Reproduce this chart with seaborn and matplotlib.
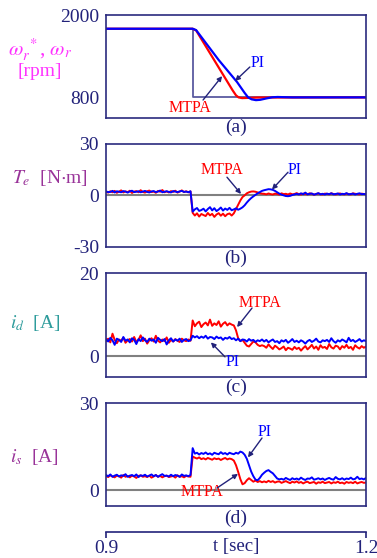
import numpy as np
import pandas as pd
import matplotlib
matplotlib.use('Agg')
import matplotlib.pyplot as plt
import seaborn as sns

sns.set_theme(style='white')
plt.rcParams['font.family'] = ['Liberation Serif', 'DejaVu Serif']
plt.rcParams['mathtext.fontset'] = 'stix'
plt.rcParams['axes.unicode_minus'] = False

# ---------------- data ----------------
T0, DT, N = 0.9, 0.0025, 121   # sampled time axis 0.9 .. 1.2 s

# (a) speed [rpm]
ref_t = [0.9, 1.0, 1.0, 1.2]
ref_w = [1800, 1800, 800, 800]
mtpa_spd_t = [0.9, 1.0, 1.004, 1.046, 1.050, 1.053, 1.057, 1.064, 1.075, 1.2]
mtpa_spd_w = [1800, 1800, 1775, 905, 830, 800, 790, 793, 798, 800]
pi_spd_t = [0.9, 1.0, 1.004, 1.03, 1.0512, 1.060, 1.064, 1.068, 1.073, 1.078,
            1.085, 1.092, 1.098, 1.106, 1.115, 1.2]
pi_spd_w = [1800, 1800, 1780, 1345, 1024, 865, 800, 772, 760, 765,
            785, 802, 806, 803, 800, 800]

# (b) torque [N m]
te_mtpa_pre = [2.1, 1.6, 2.4, 1.8, 2.6, 1.5, 2.2, 2.9, 1.7, 2.3, 1.9, 2.7, 1.4, 2.2, 2.5, 1.8, 3.0, 2.0, 1.6, 2.4,
               2.8, 1.9, 2.2, 1.5, 2.6, 2.1, 3.1, 1.8, 2.3, 1.7, 2.5, 2.0, 2.7, 1.6, 2.2, 2.9, 1.9, 2.4, 1.8, 2.3]
te_mtpa_step = [-10.2, -11.8, -10.5, -12.4, -10.9, -11.5, -12.1, -10.3, -11.7, -10.8,
                -12.6, -11.2, -10.4, -11.9, -10.7, -12.2, -11.0, -10.6, -11.8]
te_mtpa_trans = [-10.5, -8.0, -5.5, -3.0, -1.0, 0.0, 1.2, 1.8, 2.2, 2.3, 2.1, 1.7, 1.3, 1.0]
te_mtpa_post = [0.9, 0.6, 1.1, 0.7, 0.5, 1.0, 0.8, 0.4, 1.2, 0.7, 0.9, 0.5, 1.1, 0.6, 0.8, 1.3, 0.7, 0.5, 1.0, 0.8,
                0.6, 1.2, 0.9, 0.4, 0.8, 1.1, 0.7, 0.5, 1.0, 0.9, 0.6, 1.2, 0.8, 0.5, 0.9, 1.1, 0.7, 0.6, 1.0, 0.8,
                0.5, 1.2, 0.9, 0.7, 0.6, 1.0, 0.8, 0.7]

te_pi_pre = [2.3, 1.9, 2.0, 2.6, 1.7, 2.4, 2.1, 1.8, 2.5, 2.2, 1.6, 2.3, 2.7, 1.9, 2.1, 2.4, 1.8, 2.2, 2.6, 2.0,
             1.7, 2.3, 2.5, 1.9, 2.2, 2.8, 1.8, 2.1, 2.4, 2.0, 1.7, 2.5, 2.2, 1.9, 2.3, 2.6, 2.0, 2.2, 1.8, 2.4]
te_pi_step = [-9.5, -8.2, -7.4, -9.1, -8.6, -7.8, -9.4, -8.0, -6.9, -8.8,
              -7.5, -9.2, -8.3, -7.1, -8.9, -7.7, -8.5, -7.3, -8.7]
te_pi_trans = [-8.2, -7.6, -8.4, -7.8, -7.0, -5.8, -4.2, -2.8, -1.6, -0.6, 0.3, 1.2, 1.9, 2.6]
te_pi_post = [3.0, 3.3, 3.6, 3.5, 3.2, 2.6, 1.8, 1.0, 0.4, 0.0, -0.4, -0.5, -0.3, 0.2, 0.5,
              0.9, 0.5, 1.2, 0.7, 1.6, 0.6, 0.9, 1.1, 0.4, 0.8, 1.3, 0.6, 0.9, 0.5, 1.0, 0.7, 1.2,
              0.6, 0.8, 1.1, 0.5, 0.9, 0.7, 1.3, 0.6, 0.8, 1.0, 0.5, 0.9, 1.2, 0.7, 0.8, 0.6]

# (c) d-axis current [A]
id_mtpa_pre = [3.6, 4.2, 3.3, 5.4, 3.9, 3.1, 4.0, 3.7, 4.4, 3.2, 3.8, 4.1, 3.5, 4.6, 3.4, 3.9, 5.0, 3.6, 4.2, 3.0,
               3.8, 4.3, 3.5, 4.9, 3.7, 3.3, 4.0, 3.6, 4.5, 3.2, 3.9, 3.5, 4.1, 3.7, 3.4, 4.2, 3.8, 3.6, 4.0, 3.7]
id_mtpa_step = [8.6, 7.2, 7.9, 8.3, 7.0, 7.7, 8.1, 7.4, 8.8, 7.3, 7.9, 7.5, 8.4, 7.1, 7.8, 8.2, 7.4, 7.9, 7.6]
id_mtpa_trans = [7.4, 6.2, 4.3, 3.6, 3.9, 3.2, 2.5, 2.3, 2.9, 3.5, 3.3, 2.7, 2.4, 2.6]
id_mtpa_post = [2.4, 2.0, 2.8, 2.2, 1.7, 2.5, 2.1, 1.6, 1.9, 2.3, 1.4, 2.0, 1.8, 1.5, 2.2, 1.7, 2.0, 1.3, 1.9, 2.4,
                1.6, 2.1, 2.7, 1.8, 2.3, 1.5, 2.6, 2.0, 2.2, 1.7, 2.9, 2.1, 1.8, 2.5, 2.3, 1.6, 2.4, 2.0, 2.7, 1.9,
                2.2, 1.5, 2.6, 2.1, 1.8, 2.4, 2.0, 2.3]

id_pi_pre = [4.1, 3.5, 4.4, 3.8, 2.7, 4.2, 3.9, 3.4, 4.6, 3.7, 4.0, 3.3, 4.3, 3.9, 2.9, 4.1, 3.6, 4.5, 3.8, 3.4,
             4.2, 3.7, 4.0, 3.2, 4.4, 3.9, 3.6, 4.1, 2.8, 3.8, 4.3, 3.5, 4.0, 3.7, 4.2, 3.4, 3.9, 4.1, 3.6, 3.8]
id_pi_step = [4.9, 4.5, 4.8, 4.3, 4.7, 4.4, 4.9, 4.2, 4.6, 4.5, 4.1, 4.7, 4.3, 4.5, 3.9, 4.4, 4.2, 4.6, 4.1]
id_pi_trans = [4.3, 3.8, 4.2, 3.6, 4.0, 3.9, 3.5, 4.1, 3.7, 3.9, 3.4, 3.8, 3.6, 4.0]
id_pi_post = [3.5, 3.9, 3.3, 3.7, 4.0, 3.4, 3.6, 3.1, 3.8, 3.5, 3.9, 3.2, 3.6, 4.1, 3.4, 3.7, 3.3, 3.8, 3.5, 3.0,
              3.6, 3.9, 3.4, 3.7, 4.2, 3.5, 3.3, 3.8, 3.6, 3.9, 3.4, 4.3, 3.6, 3.2, 3.8, 3.5, 4.0, 3.7, 3.3, 4.4,
              3.6, 3.9, 3.4, 3.7, 4.1, 3.5, 3.8, 3.6]

# (d) stator current magnitude [A]
is_mtpa_pre = [4.9, 4.5, 5.1, 4.7, 4.4, 5.0, 4.8, 4.3, 5.2, 4.6, 4.9, 4.4, 5.0, 4.7, 4.2, 4.9, 5.1, 4.6, 4.8, 4.5,
               5.0, 4.3, 4.7, 5.2, 4.6, 4.9, 4.4, 4.8, 5.0, 4.5, 4.7, 4.9, 4.3, 5.1, 4.6, 4.8, 4.4, 4.9, 4.7, 4.6]
is_mtpa_step = [11.6, 11.2, 10.9, 11.3, 10.7, 11.0, 10.6, 11.1, 10.8, 10.5,
                11.0, 10.7, 10.9, 10.4, 10.8, 11.1, 10.6, 10.9, 10.7]
is_mtpa_trans = [10.2, 8.6, 6.3, 3.8, 2.0, 2.4, 3.4, 4.1, 3.5, 2.9, 3.3, 2.8, 3.1, 2.7]
is_mtpa_post = [3.0, 2.7, 3.2, 2.8, 3.1, 2.6, 2.9, 3.0, 2.5, 2.8, 3.1, 2.7, 2.4, 2.9, 2.6, 3.0, 2.5, 2.8, 2.3, 2.7,
                2.9, 2.4, 2.6, 2.8, 2.2, 2.7, 2.5, 2.9, 2.4, 2.6, 2.8, 2.3, 2.7, 2.5, 2.9, 2.4, 2.6, 2.2, 2.8, 2.5,
                2.7, 2.4, 2.9, 2.3, 2.6, 2.8, 2.5, 2.6]

is_pi_pre = [5.2, 4.8, 5.4, 4.6, 5.0, 5.3, 4.7, 5.1, 4.9, 5.5, 4.6, 5.0, 5.2, 4.8, 5.4, 4.5, 5.1, 4.9, 5.3, 4.7,
             5.0, 5.4, 4.8, 5.2, 4.6, 5.1, 5.5, 4.9, 5.0, 4.7, 5.3, 4.8, 5.2, 5.0, 4.6, 5.4, 4.9, 5.1, 4.8, 5.2]
is_pi_step = [14.5, 12.6, 12.9, 12.3, 12.8, 12.5, 13.0, 12.4, 12.7, 12.2,
              12.9, 12.6, 12.4, 13.1, 12.5, 12.8, 12.3, 12.9, 12.6]
is_pi_trans = [12.4, 12.9, 12.6, 13.3, 13.0, 12.2, 10.8, 8.6, 6.4, 4.8, 3.6, 3.4, 4.2, 5.3]
is_pi_post = [6.0, 6.6, 6.9, 6.3, 5.8, 4.9, 4.0, 3.7,
              3.9, 3.6, 4.2, 3.8, 3.5, 4.1, 3.7, 4.0, 3.6, 4.3, 3.8, 3.5, 4.0, 3.9, 4.4, 3.6, 3.8, 4.1, 3.7, 4.0,
              3.5, 3.9, 4.2, 3.8, 3.6, 4.5, 3.9, 3.7, 4.1, 3.6, 4.0, 3.8, 4.3, 3.7, 3.9, 4.6, 3.8, 4.0, 3.7, 4.2]

x_ticks = [0.9, 1.2]

# ---------------- styling ----------------
NAVY = '#22227a'
BOX = '#2a2a7e'
RED = '#ff0000'
BLUE = '#0000ff'
W, H = 377, 558


def series(*parts):
    vals = [v for p in parts for v in p]
    t = T0 + DT * np.arange(len(vals))
    return pd.DataFrame({'t': t, 'v': vals})


fig = plt.figure(figsize=(W / 100, H / 100), dpi=100)
fig.patch.set_facecolor('white')

left = 106 / W
width = 260 / W
boxes = [(15, 118), (144, 246.7), (273.3, 376.7), (403.3, 505.7)]
axes = []
for top, bot in boxes:
    ax = fig.add_axes([left, 1 - bot / H, width, (bot - top) / H])
    ax.set_facecolor('white')
    for s in ax.spines.values():
        s.set_visible(True)
        s.set_color(BOX)
        s.set_linewidth(1.2)
    ax.set_xlim(0.9, 1.2)
    ax.set_xticks([])
    ax.tick_params(axis='y', length=0, pad=5, labelsize=14, labelcolor=NAVY)
    ax.grid(False)
    axes.append(ax)

ax_a, ax_b, ax_c, ax_d = axes

# (a)
sns.lineplot(x=ref_t, y=ref_w, ax=ax_a, color='#5a5aa0', lw=1.3, sort=False, estimator=None)
sns.lineplot(x=mtpa_spd_t, y=mtpa_spd_w, ax=ax_a, color=RED, lw=1.6, sort=False, estimator=None)
sns.lineplot(x=pi_spd_t, y=pi_spd_w, ax=ax_a, color=BLUE, lw=1.6, sort=False, estimator=None)
ax_a.set_ylim(500, 2000)
ax_a.set_yticks([800, 2000])

# (b)-(d)
panel_data = [
    (ax_b, series(te_mtpa_pre, te_mtpa_step, te_mtpa_trans, te_mtpa_post),
     series(te_pi_pre, te_pi_step, te_pi_trans, te_pi_post), (-30, 30), [-30, 0, 30]),
    (ax_c, series(id_mtpa_pre, id_mtpa_step, id_mtpa_trans, id_mtpa_post),
     series(id_pi_pre, id_pi_step, id_pi_trans, id_pi_post), (-5, 20), [0, 20]),
    (ax_d, series(is_mtpa_pre, is_mtpa_step, is_mtpa_trans, is_mtpa_post),
     series(is_pi_pre, is_pi_step, is_pi_trans, is_pi_post), (-5.4, 30), [0, 30]),
]
for ax, dm, dp, yl, yt in panel_data:
    ax.axhline(0, color='#808080', lw=1.5, zorder=1)
    sns.lineplot(data=dm, x='t', y='v', ax=ax, color=RED, lw=1.4, sort=False, estimator=None)
    sns.lineplot(data=dp, x='t', y='v', ax=ax, color=BLUE, lw=1.4, sort=False, estimator=None)
    ax.set_ylim(*yl)
    ax.set_yticks(yt)

for ax in axes:
    ax.set_xlabel('')
    ax.set_ylabel('')
    ax.set_xlim(0.9, 1.2)

# annotations
arrow_kw = dict(arrowstyle='-|>', color=NAVY, lw=1.0, mutation_scale=7, shrinkA=0, shrinkB=0)


def note(ax, label, color, txt, tail, head):
    ax.text(*txt, label, color=color, fontsize=11.5, ha='center', va='center')
    ax.annotate('', xy=head, xytext=tail, arrowprops=arrow_kw)


note(ax_a, 'PI', BLUE, (1.0754, 1301), (1.066, 1243), (1.049, 1040))
note(ax_a, 'MTPA', RED, (0.997, 646), (1.012, 762), (1.034, 1110))
note(ax_b, 'MTPA', RED, (1.0338, 14.7), (1.0396, 10.6), (1.0558, 0.8))
note(ax_b, 'PI', BLUE, (1.118, 14.7), (1.11, 13.5), (1.0915, 3.4))
note(ax_c, 'MTPA', RED, (1.0777, 12.8), (1.0685, 11.6), (1.0512, 7.0))
note(ax_c, 'PI', BLUE, (1.0465, -1.4), (1.0373, -0.2), (1.021, 3.3))
note(ax_d, 'PI', BLUE, (1.0835, 20.1), (1.08, 18.0), (1.0638, 11.3))
note(ax_d, 'MTPA', RED, (1.0108, -0.66), (1.028, 0.7), (1.0523, 5.6))

# panel letters
for lab, yp in zip(['(a)', '(b)', '(c)', '(d)'], [127, 258, 387, 518]):
    fig.text(236 / W, 1 - yp / H, lab, ha='center', va='center', fontsize=14, color=NAVY)

# y-axis labels
fig.text(40 / W, 1 - 50 / H, r'$\omega_r^{\ *}$, $\omega_r$', ha='center', va='center',
         fontsize=15, color='#ff33ff')
fig.text(40 / W, 1 - 72 / H, '[rpm]', ha='center', va='center', fontsize=14, color='#ff33ff')
fig.text(12 / W, 1 - 178 / H, r'$T_e$  [N$\cdot$m]', ha='left', va='center', fontsize=14, color='#993399')
fig.text(10 / W, 1 - 323 / H, r'$i_d$  [A]', ha='left', va='center', fontsize=14, color='#2e9c9c')
fig.text(10 / W, 1 - 457 / H, r'$i_s$  [A]', ha='left', va='center', fontsize=14, color='#993399')

# time axis
ax_t = fig.add_axes([left, 1 - 532 / H, width, 0.0001])
ax_t.set_facecolor('none')
for k, s in ax_t.spines.items():
    s.set_visible(k == 'bottom')
ax_t.spines['bottom'].set_color(NAVY)
ax_t.spines['bottom'].set_linewidth(1.2)
ax_t.set_xlim(0.9, 1.2)
ax_t.set_yticks([])
ax_t.set_xticks(x_ticks)
ax_t.set_xticklabels(['0.9', '1.2'])
ax_t.tick_params(axis='x', direction='out', length=4, width=1.2, color=NAVY,
                 labelsize=14, labelcolor=NAVY, pad=2, bottom=True)
ax_t.grid(False)
fig.text(236 / W, 1 - 547 / H, 't [sec]', ha='center', va='center', fontsize=13.5, color=NAVY)

fig.savefig('out.png', dpi=100, facecolor='white')
